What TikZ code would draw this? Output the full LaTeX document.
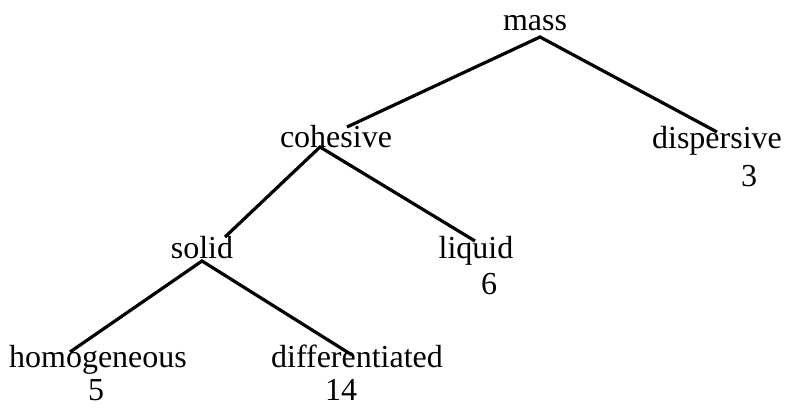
\documentclass[tikz,border=0pt]{standalone}
\usepackage{fontspec}
\setmainfont{Liberation Serif}
\usetikzlibrary{calc}
\begin{document}
\begin{tikzpicture}[x=1pt,y=-1pt,
  lbl/.style={inner sep=0pt,anchor=base,font=\fontsize{32}{38}\selectfont},
  edge/.style={line width=3.2pt,line join=miter}]
\useasboundingbox (0,0) rectangle (786,409);
\node[lbl] (mass) at (535,31) {mass};
\node[lbl] (cohesive) at (336,147) {cohesive};
\node[lbl] (dispersive) at (717,148) {dispersive};
\node[lbl] (n3) at (749,186) {3};
\node[lbl] (solid) at (202,258) {solid};
\node[lbl] (liquid) at (476,258) {liquid};
\node[lbl] (n6) at (489,294) {6};
\node[lbl] (homogeneous) at (98,367) {homogeneous};
\node[lbl] (differentiated) at (357,367) {differentiated};
\node[lbl] (n5) at (96,400) {5};
\node[lbl] (n14) at (341,400) {14};
\draw[edge] ($(cohesive.base)+(11,-20)$) -- ($(mass.base)+(5,6)$) -- ($(dispersive.base)+(0,-16)$);
\draw[edge] ($(solid.base)+(23,-21)$) -- ($(cohesive.base)+(-16,0)$) -- ($(liquid.base)+(-1,-17)$);
\draw[edge] ($(homogeneous.base)+(-28,-15)$) -- ($(solid.base)+(0,3)$) -- ($(differentiated.base)+(-5,-12)$);
\end{tikzpicture}
\end{document}
